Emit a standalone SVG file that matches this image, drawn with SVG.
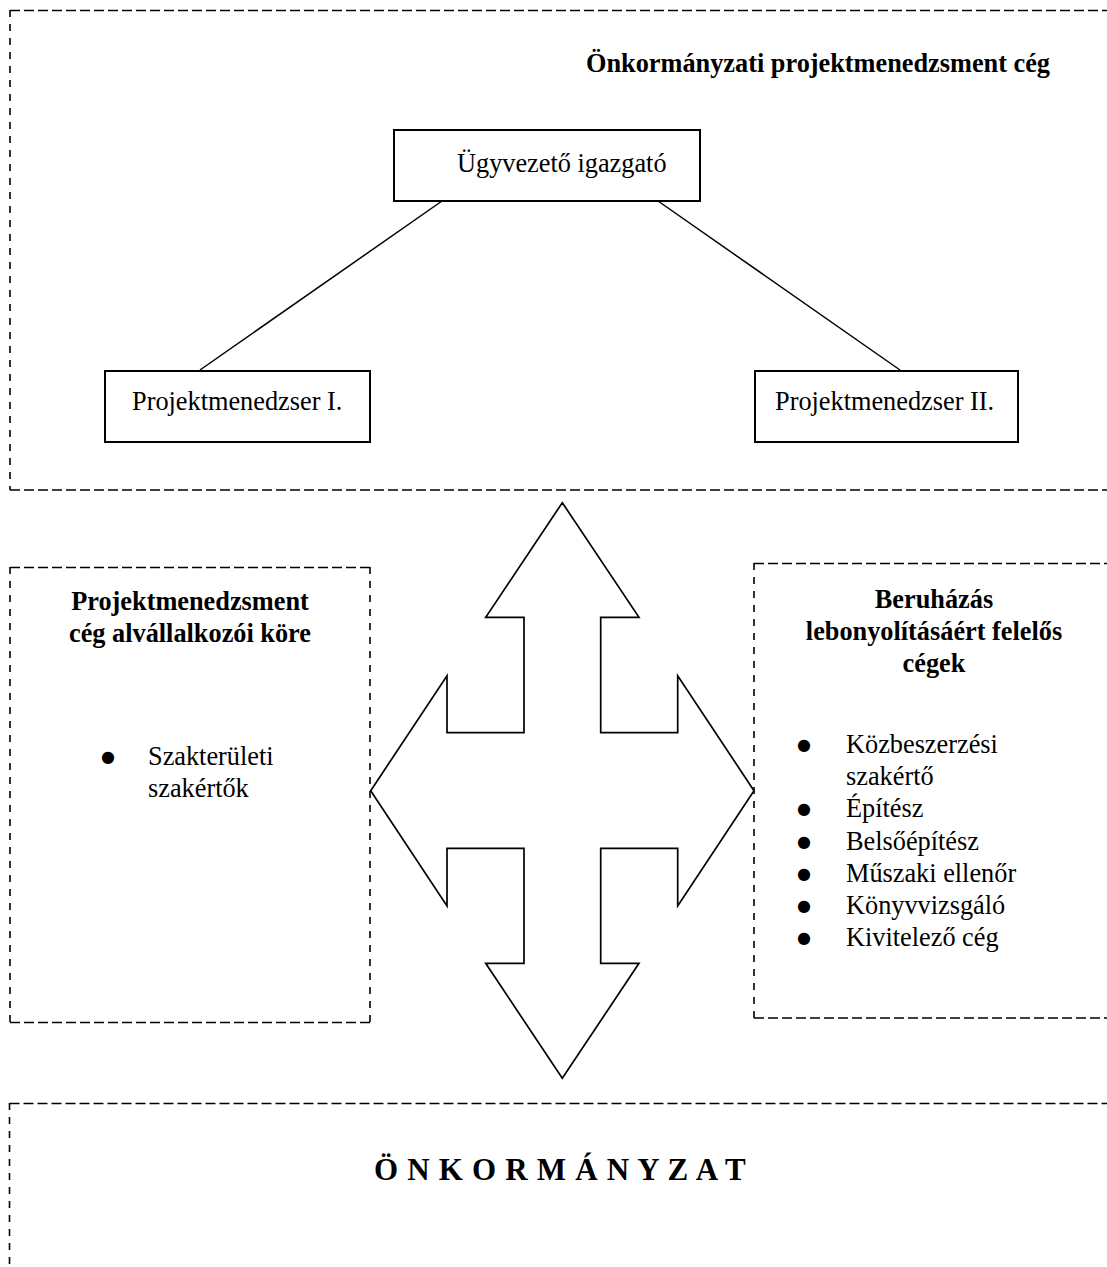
<svg xmlns="http://www.w3.org/2000/svg" width="1107" height="1267" viewBox="0 0 1107 1267">
<style>
.h{fill:none;stroke:#000;stroke-width:1.6;stroke-dasharray:10 4}
.v{fill:none;stroke:#000;stroke-width:1.6;stroke-dasharray:7 7}
.box{fill:#fff;stroke:#000;stroke-width:2}
.con{stroke:#000;stroke-width:1.5;fill:none}
text{font-family:"Liberation Serif","Times New Roman",serif;font-size:26.3px;fill:#000}
.b{font-weight:bold}
.c{text-anchor:middle}
.bul{font-family:"DejaVu Sans",sans-serif;font-size:16px}
</style>
<rect width="1107" height="1267" fill="#fff"/>
<g id="container-top">
<line class="h" x1="10" y1="10.5" x2="1107" y2="10.5"/>
<line class="v" x1="10" y1="10" x2="10" y2="490"/>
<line class="h" x1="10" y1="490" x2="1107" y2="490"/>
<text class="b" x="586" y="72">Önkormányzati projektmenedzsment cég</text>
</g>
<g id="connectors">
<line class="con" x1="442" y1="201" x2="200" y2="370"/>
<line class="con" x1="658" y1="201" x2="900" y2="370"/>
</g>
<g id="ceo">
<rect class="box" x="394" y="130" width="306" height="71"/>
<text x="457" y="172">Ügyvezető igazgató</text>
</g>
<g id="pm1">
<rect class="box" x="105" y="371" width="265" height="71"/>
<text x="132" y="410">Projektmenedzser I.</text>
</g>
<g id="pm2">
<rect class="box" x="755" y="371" width="263" height="71"/>
<text x="775" y="410">Projektmenedzser II.</text>
</g>
<g id="subcontractors">
<line class="h" x1="10" y1="567.5" x2="370" y2="567.5"/>
<line class="v" x1="10" y1="567" x2="10" y2="1023"/>
<line class="v" x1="370" y1="567" x2="370" y2="1023"/>
<line class="h" x1="10" y1="1022.5" x2="370" y2="1022.5"/>
<text class="b c" x="190" y="610">Projektmenedzsment</text>
<text class="b c" x="190" y="642">cég alvállalkozói köre</text>
<text class="bul" x="101" y="762">●</text>
<text x="148" y="765">Szakterületi</text>
<text x="148" y="797">szakértők</text>
</g>
<g id="investment-firms">
<line class="h" x1="754" y1="563.5" x2="1107" y2="563.5"/>
<line class="v" x1="754" y1="563" x2="754" y2="1018"/>
<line class="h" x1="754" y1="1018" x2="1107" y2="1018"/>
<text class="b c" x="934" y="608">Beruházás</text>
<text class="b c" x="934" y="640">lebonyolításáért felelős</text>
<text class="b c" x="934" y="672">cégek</text>
<text class="bul" x="797" y="750">●</text><text x="846" y="753">Közbeszerzési</text>
<text x="846" y="785">szakértő</text>
<text class="bul" x="797" y="814">●</text><text x="846" y="817">Építész</text>
<text class="bul" x="797" y="847">●</text><text x="846" y="850">Belsőépítész</text>
<text class="bul" x="797" y="879">●</text><text x="846" y="882">Műszaki ellenőr</text>
<text class="bul" x="797" y="911">●</text><text x="846" y="914">Könyvvizsgáló</text>
<text class="bul" x="797" y="943">●</text><text x="846" y="946">Kivitelező cég</text>
</g>
<g id="four-way-arrow">
<polygon fill="#fff" stroke="#000" stroke-width="1.7" stroke-linejoin="miter" points="562.3,502.7 639,617.3 600.7,617.3 600.7,732.7 677.7,732.7 677.7,675.7 754,790.7 677.7,906 677.7,848.3 600.7,848.3 600.7,963.3 639,963.3 562.3,1078.3 485.7,963.3 524,963.3 524,848.3 447,848.3 447,906 370.7,790.7 447,675.7 447,732.7 524,732.7 524,617.3 485.7,617.3"/>
</g>
<g id="municipality">
<line class="h" x1="9.5" y1="1103.5" x2="1107" y2="1103.5"/>
<line class="v" x1="9.5" y1="1103" x2="9.5" y2="1267"/>
<text class="b" x="374" y="1180" style="font-size:31px;letter-spacing:0.7px">Ö N K O R M Á N Y Z A T</text>
</g>
</svg>
